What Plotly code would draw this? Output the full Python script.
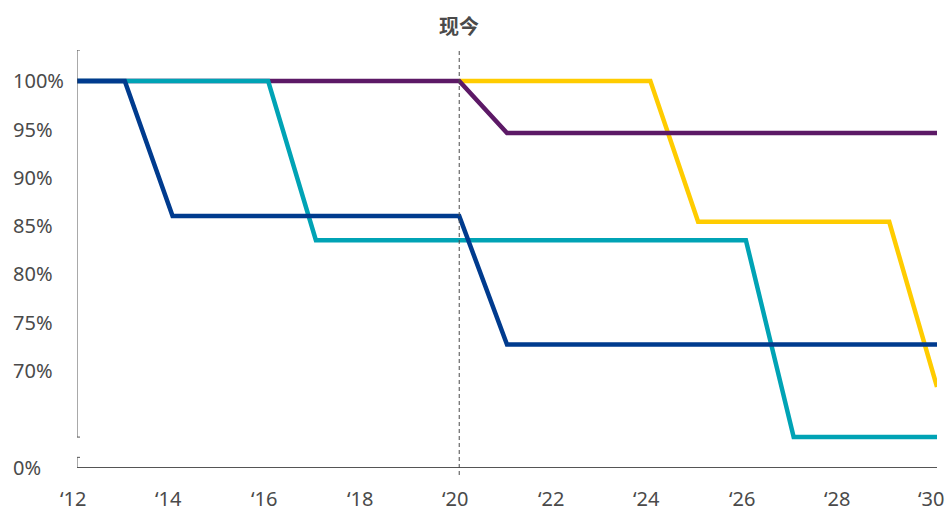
import plotly.graph_objects as go

# ---- data ----
years_blue = [2012, 2013, 2014, 2020, 2021, 2030]
vals_blue = [100, 100, 86.0, 86.0, 72.7, 72.7]

years_teal = [2012, 2016, 2017, 2026, 2027, 2030]
vals_teal = [100, 100, 83.5, 83.5, 63.1, 63.1]

years_purple = [2012, 2020, 2021, 2030]
vals_purple = [100, 100, 94.6, 94.6]

years_yellow = [2020, 2024, 2025, 2029, 2030]
vals_yellow = [100, 100, 85.4, 85.4, 68.3]

x_tick_vals = [2012, 2014, 2016, 2018, 2020, 2022, 2024, 2026, 2028, 2030]
x_tick_labels = ["\u201812", "\u201814", "\u201816", "\u201818", "\u201820",
                 "\u201822", "\u201824", "\u201826", "\u201828", "\u201830"]

y_tick_vals = [100, 95, 90, 85, 80, 75, 70, 60]
y_tick_labels = ["100%", "95%", "90%", "85%", "80%", "75%", "70%", "0%"]

now_year = 2020
now_label = "现今"

# ---- styling ----
C_BLUE = "#003B8E"
C_TEAL = "#00A3B5"
C_PURPLE = "#5C1966"
C_YELLOW = "#FFCC00"
AX = "#555555"
TXT = "#4A4A4A"
FONT = "Noto Sans"

Y_MIN, Y_MAX = 60.0, 103.2
Y_BREAK_TOP = 63.1   # end of upper axis segment
Y_BREAK_BOT = 61.0   # start of lower axis segment

fig = go.Figure()
for xs, ys, c in [(years_yellow, vals_yellow, C_YELLOW),
                  (years_purple, vals_purple, C_PURPLE),
                  (years_teal, vals_teal, C_TEAL),
                  (years_blue, vals_blue, C_BLUE)]:
    fig.add_trace(go.Scatter(x=xs, y=ys, mode="lines",
                             line=dict(color=c, width=4.5),
                             showlegend=False, hoverinfo="skip"))

cap = 3 / 47.78  # half-width of axis caps, in years
shapes = [
    # dashed "now" line
    dict(type="line", xref="x", yref="paper", x0=now_year, x1=now_year,
         y0=-8 / 417, y1=1.0, line=dict(color=TXT, width=1, dash="4px,3px")),
    # broken y-axis, upper segment
    dict(type="line", xref="x", yref="y", x0=2012, x1=2012, y0=Y_BREAK_TOP, y1=Y_MAX,
         line=dict(color=AX, width=1)),
    dict(type="line", xref="x", yref="y", x0=2012 - cap, x1=2012 + cap,
         y0=Y_BREAK_TOP, y1=Y_BREAK_TOP, line=dict(color=AX, width=1)),
    dict(type="line", xref="x", yref="y", x0=2012 - cap, x1=2012 + cap,
         y0=Y_MAX, y1=Y_MAX, line=dict(color=AX, width=1)),
    # lower segment
    dict(type="line", xref="x", yref="y", x0=2012, x1=2012, y0=Y_MIN, y1=Y_BREAK_BOT,
         line=dict(color=AX, width=1)),
    dict(type="line", xref="x", yref="y", x0=2012 - cap, x1=2012 + cap,
         y0=Y_BREAK_BOT, y1=Y_BREAK_BOT, line=dict(color=AX, width=1)),
]

annotations = [
    dict(text=f"<b>{now_label}</b>", x=now_year, xref="x", y=1.0, yref="paper",
         yanchor="middle", yshift=25, showarrow=False,
         font=dict(family="Noto Sans CJK SC", size=20, color=TXT)),
]

for v, t in zip(y_tick_vals, y_tick_labels):
    annotations.append(dict(text=t, x=-66 / 860, xref="paper", xanchor="left",
                            y=v, yref="y", yanchor="middle", showarrow=False,
                            font=dict(family=FONT, size=20, color=TXT)))

for i, (v, t) in enumerate(zip(x_tick_vals, x_tick_labels)):
    last = i == len(x_tick_vals) - 1
    annotations.append(dict(text=t, x=v, xref="x",
                            xanchor="right" if last else "center",
                            xshift=9 if last else -4,
                            y=0, yref="paper", yanchor="bottom", yshift=-47,
                            showarrow=False,
                            font=dict(family=FONT, size=20, color=TXT)))

fig.update_layout(
    width=947, height=514,
    margin=dict(l=77, r=10, t=50, b=47, autoexpand=False),
    paper_bgcolor="white", plot_bgcolor="white",
    shapes=shapes, annotations=annotations,
    xaxis=dict(range=[2012, 2030], showgrid=False, zeroline=False, showline=True,
               linecolor=AX, linewidth=1, showticklabels=False, ticks=""),
    yaxis=dict(range=[Y_MIN, Y_MAX], showgrid=False, zeroline=False, showline=False,
               showticklabels=False, ticks=""),
)

fig.write_html("out.html")
